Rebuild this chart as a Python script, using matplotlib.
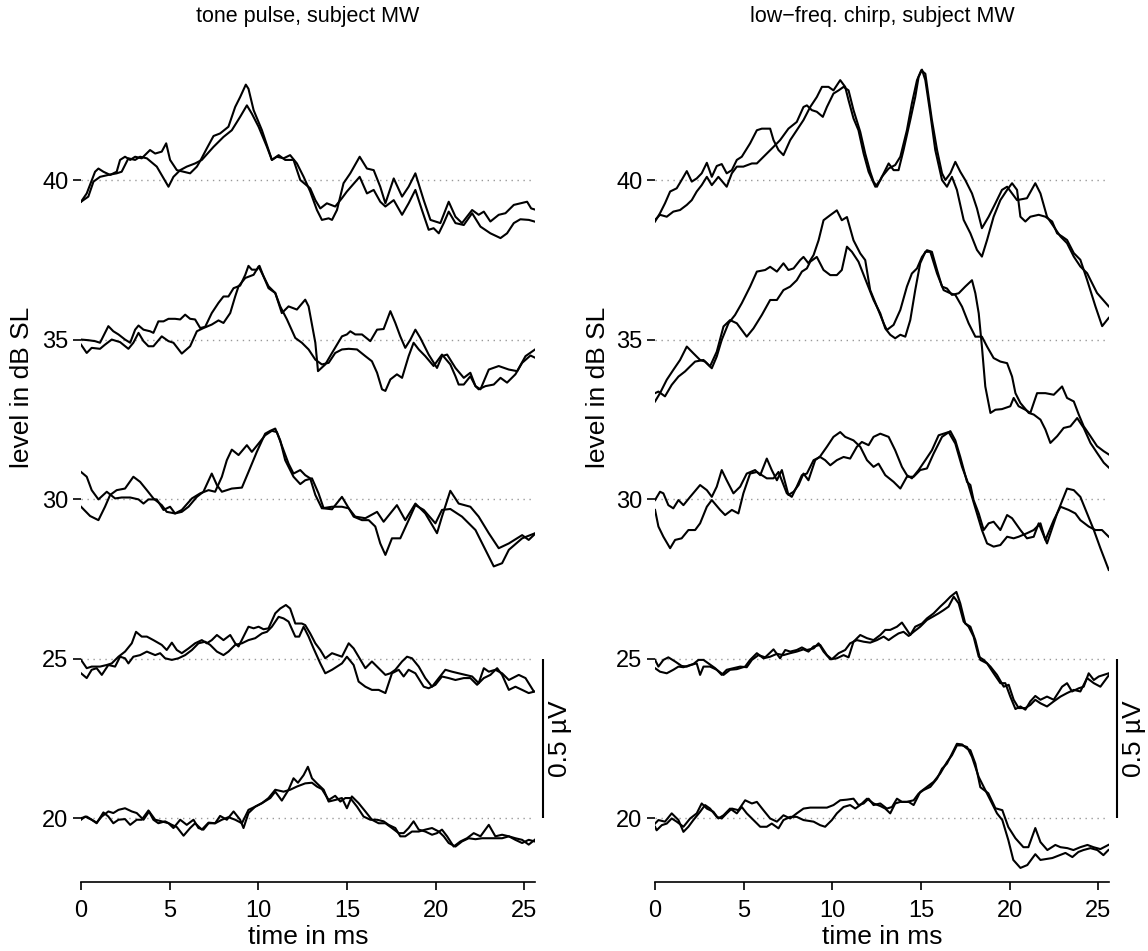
import matplotlib.pyplot as plt
import numpy as np

plt.rcParams['font.family'] = ['Liberation Sans', 'DejaVu Sans']

# averaged responses: (time in ms, amplitude in µV) per recording
tone_40a = [(0, -0.068), (0.32, -0.042), (0.79, 0.026), (0.98, 0.036), (1.26, 0.026), (1.64, 0.016), (2.01, 0.026),
            (2.20, 0.063), (2.48, 0.073), (2.77, 0.063), (3.05, 0.073), (3.42, 0.068), (3.89, 0.094), (4.18, 0.083),
            (4.55, 0.089), (4.80, 0.115), (5.02, 0.063), (5.40, 0.031), (5.78, 0.026), (6.15, 0.021), (6.53, 0.042),
            (6.75, 0.063), (7.09, 0.099), (7.47, 0.138), (7.84, 0.146), (8.31, 0.167), (8.69, 0.229), (8.97, 0.260),
            (9.29, 0.299), (9.44, 0.286), (9.73, 0.219), (10.20, 0.156), (10.76, 0.063), (11.04, 0.073), (11.42, 0.068),
            (11.79, 0.078), (12.17, 0.052), (12.55, 0.010), (12.92, -0.036), (13.30, -0.094), (13.58, -0.125),
            (13.96, -0.120), (14.15, -0.125), (14.43, -0.094), (14.80, -0.010), (15.18, 0.021), (15.71, 0.073),
            (16.12, 0.036), (16.50, 0.031), (16.87, -0.021), (17.16, -0.073), (17.63, 0.005), (18.10, -0.052),
            (18.47, -0.021), (18.85, 0.021), (19.32, -0.063), (19.70, -0.125), (20.26, -0.135), (20.73, -0.068),
            (21.11, -0.115), (21.48, -0.135), (22.05, -0.094), (22.42, -0.109), (22.71, -0.099), (23.08, -0.130),
            (23.55, -0.109), (23.93, -0.104), (24.40, -0.078), (25.15, -0.068), (25.38, -0.089), (25.56, -0.092)]
tone_40b = [(0, -0.068), (0.41, -0.052), (0.70, -0.005), (1.07, 0.010), (1.54, 0.016), (2.01, 0.021), (2.29, 0.026),
            (2.67, 0.068), (3.05, 0.063), (3.33, 0.073), (3.71, 0.068), (4.27, 0.042), (4.93, -0.021), (5.21, 0.010),
            (5.59, 0.031), (5.96, 0.042), (6.43, 0.052), (6.81, 0.063), (7.47, 0.104), (8.03, 0.135), (8.50, 0.156),
            (8.97, 0.198), (9.35, 0.234), (9.63, 0.208), (10.01, 0.167), (10.48, 0.104), (10.76, 0.063), (11.14, 0.078),
            (11.51, 0.063), (11.98, 0.063), (12.36, 0.000), (12.92, -0.026), (13.21, -0.063), (13.49, -0.089),
            (13.86, -0.073), (14.33, -0.083), (14.71, -0.057), (14.99, -0.036), (15.71, 0.010), (16.12, -0.042),
            (16.50, -0.031), (16.87, -0.068), (17.16, -0.083), (17.63, -0.063), (18.10, -0.109), (18.47, -0.073),
            (18.85, -0.031), (19.22, -0.094), (19.60, -0.156), (19.88, -0.151), (20.17, -0.167), (20.45, -0.135),
            (20.73, -0.099), (21.11, -0.135), (21.58, -0.141), (22.05, -0.104), (22.52, -0.146), (23.08, -0.167),
            (23.65, -0.182), (24.02, -0.167), (24.40, -0.135), (24.77, -0.123), (25.25, -0.125), (25.56, -0.130)]
tone_35a = [(0, 0), (0.41, -0.002), (0.79, -0.005), (1.07, -0.010), (1.35, 0.021), (1.54, 0.042), (1.82, 0.026),
            (2.11, 0.016), (2.48, 0), (2.77, -0.010), (3.05, 0.031), (3.24, 0.044), (3.52, 0.031), (3.89, 0.026),
            (4.08, 0.021), (4.36, 0.057), (4.65, 0.057), (4.93, 0.065), (5.30, 0.065), (5.59, 0.063), (5.87, 0.078),
            (6.15, 0.065), (6.43, 0.063), (6.72, 0.036), (7.00, 0.040), (7.37, 0.083), (7.75, 0.115), (8.03, 0.135),
            (8.31, 0.135), (8.60, 0.161), (8.97, 0.169), (9.26, 0.203), (9.44, 0.231), (9.63, 0.219), (9.91, 0.219),
            (10.06, 0.231), (10.29, 0.198), (10.57, 0.167), (10.95, 0.146), (11.32, 0.083), (11.70, 0.104),
            (12.17, 0.094), (12.64, 0.125), (12.83, 0.104), (13.21, -0.010), (13.36, -0.099), (13.77, -0.078),
            (14.15, -0.042), (14.71, 0.010), (14.99, 0.016), (15.18, 0.026), (15.46, 0.016), (15.84, 0.016),
            (16.31, -0.005), (16.69, 0.031), (17.06, 0.033), (17.44, 0.089), (17.72, 0.052), (18.00, 0.010),
            (18.28, -0.026), (18.57, 0), (18.85, 0.031), (19.13, 0.005), (19.60, -0.047), (20.07, -0.089),
            (20.35, -0.052), (20.64, -0.047), (21.11, -0.089), (21.58, -0.120), (21.95, -0.104), (22.24, -0.146),
            (22.52, -0.156), (22.99, -0.094), (23.55, -0.083), (24.12, -0.094), (24.59, -0.099), (25.06, -0.052),
            (25.60, -0.031)]
tone_35b = [(0, -0.016), (0.32, -0.042), (0.60, -0.026), (1.07, -0.029), (1.35, -0.016), (1.73, 0), (2.20, -0.008),
            (2.67, -0.029), (2.95, -0.010), (3.24, 0.021), (3.52, -0.005), (3.80, -0.021), (4.08, -0.021),
            (4.55, 0.010), (4.93, -0.005), (5.21, -0.010), (5.68, -0.044), (6.15, -0.021), (6.53, 0.026),
            (6.90, 0.036), (7.37, 0.047), (7.75, 0.060), (8.03, 0.052), (8.41, 0.083), (8.69, 0.135), (8.88, 0.167),
            (9.26, 0.193), (9.73, 0.203), (10.01, 0.229), (10.29, 0.198), (10.57, 0.161), (10.95, 0.146),
            (11.23, 0.104), (11.61, 0.063), (12.08, 0.005), (12.45, -0.010), (12.83, -0.031), (13.21, -0.063),
            (13.58, -0.078), (13.96, -0.073), (14.33, -0.042), (14.71, -0.031), (15.09, -0.029), (15.56, -0.031),
            (16.03, -0.052), (16.40, -0.068), (16.69, -0.104), (16.97, -0.156), (17.16, -0.161), (17.44, -0.125),
            (17.81, -0.109), (18.10, -0.120), (18.47, -0.052), (18.75, -0.010), (19.04, -0.031), (19.41, -0.052),
            (19.88, -0.083), (20.35, -0.047), (20.82, -0.078), (21.11, -0.115), (21.29, -0.141), (21.58, -0.141),
            (21.95, -0.115), (22.24, -0.146), (22.42, -0.156), (22.80, -0.146), (23.27, -0.141), (23.65, -0.120),
            (24.02, -0.135), (24.49, -0.109), (24.87, -0.073), (25.34, -0.050), (25.60, -0.057)]
tone_30a = [(0, 0.085), (0.32, 0.070), (0.60, 0.028), (0.98, -0.001), (1.45, 0.023), (1.92, 0.002), (2.29, 0.005),
            (2.77, 0.005), (3.24, -0.001), (3.52, -0.014), (3.80, -0.001), (4.27, -0.001), (4.65, -0.034),
            (5.02, -0.024), (5.30, -0.045), (5.68, -0.040), (6.06, -0.024), (6.53, 0.007), (6.90, 0.023),
            (7.37, 0.080), (7.66, 0.044), (7.94, 0.023), (8.50, 0.033), (9.07, 0.036), (9.44, 0.085), (9.91, 0.148),
            (10.38, 0.205), (10.67, 0.214), (10.95, 0.221), (11.23, 0.184), (11.51, 0.122), (11.98, 0.070),
            (12.36, 0.047), (12.64, 0.059), (13.02, 0.065), (13.39, 0.018), (13.68, -0.029), (14.15, -0.032),
            (14.71, 0.007), (14.99, -0.019), (15.37, -0.055), (15.84, -0.066), (16.22, -0.066), (16.59, -0.086),
            (16.87, -0.139), (17.16, -0.175), (17.53, -0.123), (18.00, -0.123), (18.47, -0.066), (18.85, -0.019),
            (19.32, -0.034), (19.98, -0.076), (20.35, -0.034), (20.82, -0.031), (21.48, -0.055), (22.24, -0.097),
            (22.80, -0.159), (23.27, -0.211), (23.74, -0.201), (24.12, -0.159), (24.87, -0.123), (25.60, -0.107)]
tone_30b = [(0, -0.024), (0.51, -0.053), (0.98, -0.066), (1.35, -0.024), (1.64, 0.013), (2.01, 0.028), (2.48, 0.033),
            (2.95, 0.070), (3.33, 0.054), (3.71, 0.028), (4.08, 0.002), (4.55, -0.019), (4.83, -0.040),
            (5.30, -0.045), (5.68, -0.034), (6.25, 0.002), (6.72, 0.018), (7.19, 0.028), (7.56, 0.023), (7.94, 0.070),
            (8.22, 0.122), (8.50, 0.155), (8.88, 0.138), (9.35, 0.169), (9.63, 0.148), (10.01, 0.174), (10.38, 0.200),
            (10.76, 0.214), (11.04, 0.210), (11.42, 0.153), (11.70, 0.111), (11.98, 0.080), (12.36, 0.091),
            (12.64, 0.075), (12.92, 0.065), (13.21, 0.013), (13.58, -0.029), (14.15, -0.024), (14.71, -0.024),
            (15.09, -0.029), (15.46, -0.055), (16.03, -0.060), (16.69, -0.040), (17.06, -0.071), (17.81, -0.019),
            (18.28, -0.066), (18.85, -0.014), (19.41, -0.045), (20.07, -0.107), (20.35, -0.055), (20.82, 0.026),
            (21.29, -0.014), (21.95, -0.024), (22.42, -0.055), (22.99, -0.107), (23.55, -0.154), (24.12, -0.139),
            (24.87, -0.113), (25.24, -0.128), (25.60, -0.109)]
tone_25a = [(0, -0.004), (0.32, -0.030), (0.60, -0.025), (1.07, -0.025), (1.45, -0.020), (1.73, -0.015), (2.11, 0.006),
            (2.48, 0.022), (2.86, 0.048), (3.10, 0.084), (3.42, 0.069), (3.71, 0.069), (4.08, 0.058), (4.55, 0.043),
            (4.83, 0.027), (5.12, 0.050), (5.40, 0.027), (5.68, 0.017), (6.06, 0.032), (6.43, 0.048), (6.81, 0.058),
            (7.09, 0.048), (7.37, 0.058), (7.66, 0.074), (8.03, 0.058), (8.41, 0.074), (8.69, 0.048), (8.88, 0.038),
            (9.16, 0.069), (9.44, 0.100), (9.73, 0.095), (10.01, 0.100), (10.29, 0.092), (10.57, 0.095),
            (10.95, 0.142), (11.23, 0.157), (11.55, 0.168), (11.79, 0.157), (12.08, 0.110), (12.45, 0.110),
            (12.64, 0.105), (12.92, 0.079), (13.21, 0.048), (13.49, 0.027), (13.77, 0.001), (14.15, 0.017),
            (14.71, 0.006), (15.09, 0.048), (15.37, 0.032), (15.65, 0.006), (16.03, -0.030), (16.40, -0.009),
            (16.78, -0.030), (17.16, -0.051), (17.44, -0.046), (17.72, -0.035), (18.10, -0.009), (18.38, 0.006),
            (18.66, 0.001), (19.04, -0.025), (19.41, -0.061), (19.79, -0.088), (20.17, -0.061), (20.54, -0.035),
            (20.92, -0.041), (21.29, -0.046), (21.67, -0.051), (22.05, -0.056), (22.42, -0.077), (22.71, -0.030),
            (22.99, -0.041), (23.36, -0.035), (23.74, -0.046), (24.12, -0.067), (24.68, -0.051), (25.06, -0.061),
            (25.53, -0.103)]
tone_25b = [(0, -0.046), (0.32, -0.061), (0.60, -0.035), (0.88, -0.030), (1.17, -0.051), (1.54, -0.020),
            (1.92, -0.025), (2.20, 0.006), (2.48, 0.001), (2.67, -0.015), (2.95, 0.006), (3.33, 0.011), (3.71, 0.022),
            (4.18, 0.011), (4.46, 0.017), (4.74, 0.001), (5.12, -0.004), (5.49, 0.001), (5.87, 0.011), (6.25, 0.027),
            (6.62, 0.048), (7.00, 0.053), (7.28, 0.043), (7.66, 0.022), (8.03, 0.011), (8.31, 0.022), (8.69, 0.043),
            (9.07, 0.048), (9.44, 0.058), (9.82, 0.064), (10.20, 0.079), (10.48, 0.084), (10.76, 0.100),
            (11.14, 0.131), (11.42, 0.126), (11.70, 0.116), (12.08, 0.069), (12.30, 0.069), (12.55, 0.100),
            (12.83, 0.069), (13.11, 0.032), (13.49, -0.015), (13.77, -0.046), (14.15, -0.035), (14.43, -0.025),
            (14.71, -0.015), (14.99, 0.006), (15.37, -0.020), (15.65, -0.072), (16.03, -0.088), (16.40, -0.098),
            (16.78, -0.098), (17.16, -0.108), (17.53, -0.046), (17.91, -0.035), (18.19, -0.056), (18.47, -0.035),
            (18.85, -0.046), (19.32, -0.088), (19.60, -0.093), (19.98, -0.082), (20.35, -0.056), (20.73, -0.061),
            (21.11, -0.067), (21.58, -0.061), (21.95, -0.061), (22.33, -0.082), (22.71, -0.061), (23.08, -0.051),
            (23.46, -0.030), (23.74, -0.051), (24.12, -0.098), (24.49, -0.088), (24.87, -0.098), (25.24, -0.108),
            (25.58, -0.103)]
tone_20a = [(0, 0), (0.32, 0.005), (0.60, -0.005), (0.88, -0.016), (1.26, 0.018), (1.54, 0.005), (1.82, -0.016),
            (2.11, -0.005), (2.48, -0.003), (2.77, -0.021), (3.14, -0.005), (3.42, -0.005), (3.80, 0.024),
            (4.08, -0.005), (4.36, -0.016), (4.74, -0.010), (5.12, -0.021), (5.40, -0.028), (5.78, -0.055),
            (6.15, -0.031), (6.43, -0.016), (6.81, -0.036), (7.19, -0.014), (7.56, -0.016), (7.84, 0.007),
            (8.22, -0.005), (8.60, 0.021), (8.97, -0.005), (9.16, -0.031), (9.44, 0.016), (9.82, 0.036), (10.20, 0.047),
            (10.67, 0.063), (10.95, 0.083), (11.32, 0.055), (11.70, 0.089), (11.98, 0.125), (12.23, 0.111),
            (12.55, 0.135), (12.79, 0.161), (13.02, 0.125), (13.30, 0.109), (13.68, 0.089), (13.96, 0.052),
            (14.33, 0.057), (14.71, 0.063), (14.99, 0.031), (15.27, 0.068), (15.65, 0.047), (16.03, 0.021),
            (16.40, -0.005), (16.78, -0.016), (17.16, -0.016), (17.53, -0.031), (17.91, -0.047), (18.19, -0.047),
            (18.47, -0.031), (18.75, -0.010), (19.04, -0.036), (19.41, -0.042), (19.79, -0.052), (20.07, -0.047),
            (20.35, -0.036), (20.64, -0.057), (21.01, -0.089), (21.39, -0.073), (21.76, -0.063), (22.14, -0.047),
            (22.52, -0.057), (22.99, -0.021), (23.36, -0.057), (23.74, -0.052), (24.12, -0.057), (24.49, -0.063),
            (24.87, -0.068), (25.24, -0.083), (25.58, -0.068)]
tone_20b = [(0, -0.005), (0.23, 0.005), (0.60, -0.005), (0.88, -0.014), (1.17, 0.005), (1.54, 0.021), (1.82, 0.016),
            (2.11, 0.026), (2.48, 0.031), (2.86, 0.021), (3.14, 0.016), (3.52, -0.005), (3.84, 0.021), (4.18, -0.005),
            (4.55, -0.010), (4.93, -0.016), (5.21, -0.031), (5.59, -0.005), (5.96, -0.021), (6.34, -0.005),
            (6.62, -0.031), (6.90, -0.036), (7.19, -0.016), (7.56, -0.016), (7.94, -0.005), (8.31, 0.003),
            (8.69, -0.005), (9.07, -0.016), (9.44, 0.026), (9.82, 0.036), (10.20, 0.047), (10.57, 0.063),
            (10.95, 0.089), (11.42, 0.083), (11.79, 0.089), (12.17, 0.099), (12.64, 0.109), (13.02, 0.111),
            (13.30, 0.099), (13.58, 0.091), (13.96, 0.057), (14.33, 0.070), (14.62, 0.052), (14.90, 0.063),
            (15.18, 0.063), (15.56, 0.036), (15.93, 0.005), (16.31, -0.005), (16.69, -0.005), (17.06, -0.010),
            (17.34, -0.021), (17.72, -0.031), (18.00, -0.057), (18.28, -0.057), (18.66, -0.042), (19.04, -0.042),
            (19.41, -0.036), (19.79, -0.031), (20.17, -0.042), (20.45, -0.057), (20.73, -0.078), (21.11, -0.089),
            (21.48, -0.073), (21.86, -0.063), (22.24, -0.066), (22.61, -0.063), (22.99, -0.063), (23.36, -0.063),
            (23.74, -0.063), (24.12, -0.057), (24.49, -0.068), (24.87, -0.078), (25.24, -0.068), (25.58, -0.073)]

chirp_40a = [(0, -0.130), (0.28, -0.104), (0.56, -0.073), (0.85, -0.036), (1.22, -0.026), (1.50, 0), (1.79, 0.028),
             (2.07, -0.005), (2.35, 0.005), (2.63, 0.021), (2.92, 0.054), (3.20, 0.010), (3.48, 0.044), (3.76, 0.050),
             (4.04, 0.021), (4.33, 0.031), (4.61, 0.063), (4.89, 0.073), (5.36, 0.115), (5.74, 0.156), (6.02, 0.161),
             (6.49, 0.161), (6.68, 0.125), (6.96, 0.094), (7.24, 0.078), (7.62, 0.125), (7.99, 0.156), (8.37, 0.188),
             (8.75, 0.229), (9.12, 0.260), (9.41, 0.292), (9.78, 0.292), (10.06, 0.281), (10.44, 0.313),
             (10.72, 0.292), (10.91, 0.250), (11.19, 0.193), (11.47, 0.156), (11.76, 0.083), (12.04, 0.026),
             (12.42, -0.021), (12.70, 0), (13.17, 0.052), (13.45, 0.031), (13.73, 0.031), (14.01, 0.094),
             (14.39, 0.188), (14.67, 0.260), (14.86, 0.323), (15.05, 0.346), (15.24, 0.313), (15.52, 0.208),
             (15.80, 0.094), (16.18, 0), (16.46, -0.021), (16.74, 0.010), (17.02, -0.031), (17.40, -0.125),
             (17.78, -0.167), (18.15, -0.219), (18.43, -0.240), (18.72, -0.188), (19.09, -0.115), (19.47, -0.063),
             (19.85, -0.031), (20.13, -0.010), (20.41, -0.031), (20.60, -0.115), (20.88, -0.130), (21.16, -0.115),
             (21.63, -0.109), (22.01, -0.115), (22.39, -0.130), (22.67, -0.167), (22.95, -0.177), (23.23, -0.188),
             (23.61, -0.229), (23.98, -0.250), (24.36, -0.313), (24.83, -0.396), (25.21, -0.458), (25.58, -0.432)]
chirp_40b = [(0, -0.125), (0.28, -0.109), (0.66, -0.115), (1.03, -0.099), (1.41, -0.094), (1.79, -0.078),
             (2.07, -0.063), (2.35, -0.036), (2.63, -0.016), (2.92, 0.010), (3.20, -0.016), (3.57, 0.010),
             (4.04, -0.021), (4.33, 0.021), (4.61, 0.042), (4.98, 0.042), (5.46, 0.052), (5.74, 0.052), (6.21, 0.078),
             (6.68, 0.104), (7.05, 0.125), (7.52, 0.161), (7.99, 0.182), (8.37, 0.229), (8.56, 0.234), (8.84, 0.219),
             (9.12, 0.214), (9.46, 0.198), (9.69, 0.229), (10.06, 0.271), (10.35, 0.281), (10.63, 0.292),
             (10.91, 0.281), (11.19, 0.219), (11.57, 0.151), (11.85, 0.083), (12.13, 0.026), (12.32, -0.005),
             (12.51, -0.021), (12.79, 0.010), (13.17, 0.036), (13.54, 0.047), (13.83, 0.073), (14.20, 0.156),
             (14.48, 0.240), (14.77, 0.313), (15.01, 0.344), (15.24, 0.333), (15.61, 0.188), (15.90, 0.094),
             (16.18, 0.021), (16.37, 0), (16.65, 0.021), (16.93, 0.057), (17.21, 0.026), (17.49, 0), (17.87, -0.042),
             (18.15, -0.089), (18.43, -0.151), (18.81, -0.115), (19.19, -0.073), (19.56, -0.031), (19.85, -0.021),
             (20.13, -0.042), (20.41, -0.063), (20.97, -0.057), (21.44, -0.010), (21.73, -0.042), (22.10, -0.115),
             (22.48, -0.146), (22.86, -0.177), (23.23, -0.198), (23.61, -0.240), (23.98, -0.271), (24.36, -0.292),
             (24.92, -0.354), (25.58, -0.396)]
chirp_35a = [(0, -0.194), (0.28, -0.168), (0.66, -0.126), (1.03, -0.095), (1.41, -0.064), (1.79, -0.022),
             (2.16, -0.043), (2.54, -0.064), (2.82, -0.069), (3.20, -0.090), (3.48, -0.053), (3.76, -0.001),
             (4.14, 0.051), (4.51, 0.077), (4.89, 0.114), (5.36, 0.166), (5.74, 0.213), (6.21, 0.218), (6.49, 0.228),
             (6.87, 0.213), (7.24, 0.239), (7.52, 0.218), (7.81, 0.223), (8.18, 0.249), (8.37, 0.259), (8.65, 0.239),
             (8.94, 0.265), (9.22, 0.311), (9.50, 0.374), (9.88, 0.390), (10.25, 0.405), (10.53, 0.374),
             (10.82, 0.384), (11.19, 0.311), (11.57, 0.270), (11.85, 0.249), (12.13, 0.155), (12.51, 0.103),
             (12.89, 0.051), (13.07, 0.030), (13.45, 0.046), (13.83, 0.093), (14.20, 0.166), (14.48, 0.207),
             (14.77, 0.223), (15.05, 0.259), (15.33, 0.280), (15.61, 0.275), (15.90, 0.218), (16.18, 0.166),
             (16.46, 0.160), (16.74, 0.140), (17.12, 0.145), (17.49, 0.166), (17.87, 0.186), (18.06, 0.145),
             (18.25, 0.082), (18.43, -0.022), (18.62, -0.147), (18.91, -0.230), (19.19, -0.220), (19.56, -0.218),
             (20.03, -0.209), (20.22, -0.183), (20.50, -0.209), (20.88, -0.220), (21.16, -0.230), (21.54, -0.168),
             (22.01, -0.168), (22.48, -0.173), (22.95, -0.147), (23.23, -0.183), (23.61, -0.194), (23.89, -0.235),
             (24.17, -0.272), (24.55, -0.303), (24.92, -0.334), (25.30, -0.350), (25.58, -0.360)]
chirp_35b = [(0, -0.168), (0.19, -0.163), (0.56, -0.178), (0.94, -0.142), (1.32, -0.116), (1.69, -0.100),
             (1.98, -0.084), (2.26, -0.069), (2.73, -0.064), (3.10, -0.084), (3.48, -0.038), (3.86, 0.041),
             (4.23, 0.061), (4.61, 0.051), (5.17, 0.009), (5.55, 0.035), (6.02, 0.077), (6.49, 0.124), (6.87, 0.124),
             (7.24, 0.155), (7.62, 0.166), (7.99, 0.186), (8.28, 0.213), (8.56, 0.223), (8.75, 0.244), (9.12, 0.259),
             (9.50, 0.218), (9.88, 0.202), (10.25, 0.202), (10.53, 0.218), (10.82, 0.291), (11.10, 0.275),
             (11.47, 0.244), (11.95, 0.176), (12.32, 0.124), (12.70, 0.082), (12.98, 0.035), (13.26, 0.015),
             (13.54, 0.004), (13.83, 0.015), (14.11, 0.009), (14.39, 0.061), (14.67, 0.155), (14.95, 0.239),
             (15.24, 0.275), (15.52, 0.275), (15.90, 0.207), (16.27, 0.155), (16.65, 0.145), (16.93, 0.140),
             (17.31, 0.103), (17.68, 0.051), (18.06, 0.009), (18.43, 0.009), (18.72, -0.022), (19.09, -0.058),
             (19.47, -0.069), (19.85, -0.074), (20.13, -0.116), (20.32, -0.168), (20.60, -0.199), (21.07, -0.230),
             (21.35, -0.235), (21.73, -0.251), (22.01, -0.282), (22.29, -0.324), (22.67, -0.303), (23.04, -0.277),
             (23.42, -0.272), (23.80, -0.246), (24.17, -0.277), (24.55, -0.324), (24.92, -0.355), (25.30, -0.386),
             (25.58, -0.401)]
chirp_30a = [(0, -0.003), (0.28, 0.023), (0.47, 0.018), (0.75, -0.019), (1.03, -0.029), (1.32, -0.003),
             (1.60, -0.019), (1.98, 0.007), (2.54, 0.044), (2.92, 0.028), (3.20, 0.007), (3.48, 0.039), (3.76, 0.091),
             (4.04, 0.059), (4.42, 0.018), (4.80, 0.039), (5.17, 0.080), (5.64, 0.091), (5.93, 0.075), (6.30, 0.127),
             (6.58, 0.091), (6.87, 0.059), (7.15, 0.091), (7.52, 0.013), (7.81, 0.023), (8.09, 0.044), (8.37, 0.080),
             (8.65, 0.059), (9.03, 0.122), (9.31, 0.134), (9.69, 0.164), (10.06, 0.195), (10.44, 0.210),
             (10.72, 0.195), (11.19, 0.184), (11.57, 0.164), (11.95, 0.122), (12.32, 0.101), (12.60, 0.111),
             (12.98, 0.075), (13.45, 0.054), (13.83, 0.033), (14.20, 0.070), (14.58, 0.070), (14.95, 0.091),
             (15.33, 0.096), (15.71, 0.143), (16.18, 0.195), (16.65, 0.213), (16.93, 0.184), (17.21, 0.132),
             (17.59, 0.054), (17.78, 0.044), (17.96, -0.003), (18.25, -0.045), (18.53, -0.097), (18.81, -0.076),
             (19.09, -0.071), (19.47, -0.097), (19.85, -0.050), (20.13, -0.060), (20.60, -0.097), (20.97, -0.123),
             (21.35, -0.118), (21.63, -0.076), (22.10, -0.139), (22.67, -0.045), (23.23, 0.033), (23.61, 0.028),
             (23.98, 0.007), (24.36, -0.045), (24.74, -0.097), (25.11, -0.154), (25.58, -0.222)]
chirp_30b = [(0, -0.034), (0.19, -0.086), (0.47, -0.118), (0.85, -0.154), (1.13, -0.128), (1.50, -0.123),
             (1.88, -0.097), (2.26, -0.097), (2.54, -0.076), (2.92, -0.024), (3.20, -0.003), (3.67, -0.034),
             (3.95, -0.050), (4.33, -0.034), (4.70, -0.045), (4.98, 0.018), (5.36, 0.080), (5.74, 0.085),
             (6.30, 0.065), (6.68, 0.065), (6.96, 0.085), (7.43, 0.018), (7.71, 0.007), (7.99, 0.039), (8.28, 0.075),
             (8.56, 0.080), (8.94, 0.122), (9.31, 0.132), (9.59, 0.122), (9.88, 0.106), (10.25, 0.122), (10.63, 0.132),
             (11.00, 0.127), (11.38, 0.164), (11.66, 0.179), (12.04, 0.169), (12.32, 0.195), (12.70, 0.205),
             (13.17, 0.195), (13.54, 0.153), (13.92, 0.101), (14.20, 0.075), (14.48, 0.065), (14.86, 0.091),
             (15.24, 0.122), (15.61, 0.153), (15.99, 0.200), (16.55, 0.210), (16.93, 0.174), (17.31, 0.101),
             (17.59, 0.059), (17.87, 0.007), (18.15, -0.045), (18.43, -0.097), (18.72, -0.139), (19.09, -0.149),
             (19.47, -0.144), (19.85, -0.118), (20.22, -0.123), (20.50, -0.118), (20.97, -0.107), (21.35, -0.097),
             (21.73, -0.076), (22.01, -0.128), (22.48, -0.066), (22.86, -0.024), (23.32, -0.034), (23.70, -0.045),
             (23.98, -0.066), (24.45, -0.086), (24.83, -0.097), (25.20, -0.097), (25.58, -0.118)]
chirp_25a = [(0, -0.004), (0.19, -0.025), (0.47, -0.004), (0.75, 0.004), (1.13, -0.009), (1.50, -0.023),
             (1.79, -0.025), (2.16, -0.017), (2.45, -0.004), (2.73, -0.004), (3.01, -0.015), (3.39, -0.030),
             (3.76, -0.051), (4.04, -0.035), (4.42, -0.030), (4.80, -0.025), (5.17, -0.027), (5.46, -0.004),
             (5.83, 0.011), (6.21, 0.004), (6.68, 0.029), (7.05, 0.001), (7.34, 0.027), (7.62, 0.022), (7.99, 0.027),
             (8.28, 0.035), (8.56, 0.027), (8.94, 0.032), (9.22, 0.048), (9.50, 0.022), (9.88, -0.002), (10.25, 0.001),
             (10.63, 0.011), (10.91, 0.004), (11.19, 0.053), (11.57, 0.074), (11.95, 0.064), (12.32, 0.058),
             (12.70, 0.074), (12.98, 0.090), (13.26, 0.090), (13.64, 0.100), (13.92, 0.113), (14.20, 0.090),
             (14.39, 0.074), (14.67, 0.100), (15.05, 0.110), (15.33, 0.126), (15.71, 0.142), (16.08, 0.163),
             (16.37, 0.178), (16.65, 0.194), (16.99, 0.209), (17.21, 0.173), (17.49, 0.110), (17.78, 0.100),
             (18.06, 0.058), (18.34, -0.004), (18.72, -0.015), (19.09, -0.046), (19.47, -0.077), (19.75, -0.077),
             (20.03, -0.119), (20.32, -0.158), (20.60, -0.150), (20.88, -0.160), (21.16, -0.134), (21.44, -0.117),
             (21.73, -0.129), (22.10, -0.119), (22.48, -0.129), (22.95, -0.088), (23.23, -0.077), (23.51, -0.103),
             (23.89, -0.093), (24.17, -0.088), (24.45, -0.046), (24.74, -0.067), (25.02, -0.056), (25.30, -0.051),
             (25.58, -0.046)]
chirp_25b = [(0, -0.030), (0.28, -0.041), (0.66, -0.046), (1.03, -0.035), (1.32, -0.025), (1.60, -0.027),
             (1.98, -0.020), (2.35, -0.015), (2.54, -0.051), (2.73, -0.025), (3.10, -0.025), (3.48, -0.035),
             (3.86, -0.051), (4.23, -0.035), (4.61, -0.033), (5.08, -0.025), (5.36, -0.004), (5.74, 0.017),
             (6.11, 0.001), (6.49, 0.006), (6.87, 0.015), (7.24, 0.011), (7.62, 0.017), (7.99, 0.022), (8.37, 0.029),
             (8.65, 0.022), (8.94, 0.038), (9.31, 0.043), (9.69, 0.011), (9.97, -0.002), (10.35, 0.017), (10.72, 0.027),
             (11.00, 0.048), (11.38, 0.058), (11.76, 0.053), (12.13, 0.050), (12.51, 0.058), (12.89, 0.069),
             (13.17, 0.058), (13.45, 0.069), (13.73, 0.079), (14.01, 0.084), (14.30, 0.071), (14.58, 0.084),
             (14.95, 0.100), (15.33, 0.121), (15.71, 0.133), (15.99, 0.142), (16.27, 0.152), (16.55, 0.163),
             (16.84, 0.194), (17.12, 0.173), (17.40, 0.116), (17.68, 0.100), (17.96, 0.069), (18.25, 0.006),
             (18.53, -0.004), (18.91, -0.025), (19.28, -0.051), (19.66, -0.088), (19.94, -0.082), (20.22, -0.129),
             (20.50, -0.155), (20.88, -0.155), (21.16, -0.145), (21.44, -0.129), (21.73, -0.140), (22.10, -0.150),
             (22.48, -0.134), (22.86, -0.119), (23.23, -0.108), (23.61, -0.098), (23.98, -0.103), (24.36, -0.061),
             (24.74, -0.077), (25.11, -0.088), (25.60, -0.051)]
chirp_20a = [(0, -0.017), (0.19, -0.006), (0.56, -0.011), (0.94, 0.015), (1.32, -0.006), (1.60, -0.043),
             (1.88, -0.027), (2.16, -0.006), (2.54, 0.020), (2.82, 0.041), (3.10, 0.030), (3.48, 0.004),
             (3.76, -0.001), (4.04, 0.015), (4.33, 0.030), (4.70, 0.025), (5.08, 0.056), (5.46, 0.046), (5.74, 0.051),
             (6.11, 0.025), (6.49, -0.001), (6.87, -0.011), (7.24, 0.009), (7.62, -0.001), (7.99, 0.015),
             (8.37, 0.030), (8.75, 0.033), (9.12, 0.033), (9.69, 0.033), (10.06, 0.041), (10.44, 0.056),
             (10.82, 0.058), (11.19, 0.061), (11.47, 0.041), (11.76, 0.046), (12.04, 0.061), (12.32, 0.041),
             (12.70, 0.046), (13.07, 0.030), (13.36, 0.035), (13.64, 0.061), (13.92, 0.051), (14.30, 0.051),
             (14.58, 0.041), (14.95, 0.082), (15.33, 0.098), (15.71, 0.114), (16.08, 0.140), (16.46, 0.176),
             (16.74, 0.197), (17.02, 0.228), (17.31, 0.228), (17.59, 0.223), (17.87, 0.192), (18.25, 0.129),
             (18.62, 0.088), (18.91, 0.056), (19.28, 0.015), (19.58, -0.006), (19.92, -0.069), (20.20, -0.131),
             (20.60, -0.156), (20.99, -0.147), (21.44, -0.113), (21.73, -0.131), (22.40, -0.125), (23.14, -0.109),
             (23.53, -0.122), (23.87, -0.106), (24.15, -0.100), (24.55, -0.094), (24.94, -0.100), (25.28, -0.116),
             (25.56, -0.100)]
chirp_20b = [(0, -0.027), (0.09, -0.038), (0.38, -0.022), (0.66, -0.017), (0.94, -0.001), (1.22, -0.011),
             (1.60, -0.027), (1.98, -0.001), (2.35, 0.015), (2.63, 0.046), (2.92, 0.030), (3.29, 0.020),
             (3.57, -0.001), (3.86, 0.009), (4.23, 0.030), (4.61, 0.015), (4.89, 0.035), (5.17, 0.015),
             (5.55, -0.006), (5.93, -0.027), (6.30, -0.027), (6.58, -0.017), (6.96, -0.032), (7.24, -0.006),
             (7.62, 0.004), (7.99, 0.004), (8.37, -0.006), (8.94, -0.011), (9.31, -0.022), (9.59, -0.027),
             (9.97, -0.006), (10.25, 0.015), (10.63, 0.035), (11.00, 0.041), (11.29, 0.030), (11.57, 0.041),
             (11.95, 0.061), (12.32, 0.046), (12.70, 0.038), (12.98, 0.030), (13.26, 0.015), (13.54, 0.046),
             (13.83, 0.051), (14.20, 0.051), (14.58, 0.056), (14.86, 0.077), (15.14, 0.088), (15.52, 0.098),
             (15.90, 0.124), (16.18, 0.155), (16.46, 0.171), (16.74, 0.202), (17.02, 0.233), (17.31, 0.231),
             (17.59, 0.218), (17.78, 0.213), (18.06, 0.171), (18.34, 0.097), (18.79, 0.078), (19.19, 0.031),
             (19.58, 0.025), (19.92, -0.028), (20.32, -0.063), (20.77, -0.091), (21.05, -0.091), (21.44, -0.031),
             (21.73, -0.075), (22.12, -0.100), (22.57, -0.084), (22.86, -0.091), (23.25, -0.094), (23.59, -0.100),
             (23.98, -0.091), (24.38, -0.084), (24.72, -0.091), (25.11, -0.097), (25.56, -0.084)]

levels = [40, 35, 30, 25, 20]
tone_traces = [(tone_40a, tone_40b), (tone_35a, tone_35b), (tone_30a, tone_30b),
               (tone_25a, tone_25b), (tone_20a, tone_20b)]
chirp_traces = [(chirp_40a, chirp_40b), (chirp_35a, chirp_35b), (chirp_30a, chirp_30b),
                (chirp_25a, chirp_25b), (chirp_20a, chirp_20b)]
titles = ["tone pulse, subject MW", "low\u2212freq. chirp, subject MW"]

db_per_uv = 10.0   # 0.5 µV bar spans 5 dB on the level axis
bar_uv = 0.5

fig = plt.figure(figsize=(11.48, 9.51), dpi=100)
ax_l = fig.add_axes([0.0706, 0.0726, 0.3955, 0.8723])
ax_r = fig.add_axes([0.5706, 0.0726, 0.3955, 0.8723])

for ax, traces, title, ylab_x in [(ax_l, tone_traces, titles[0], -0.130),
                                  (ax_r, chirp_traces, titles[1], -0.126)]:
    for level, pair in zip(levels, traces):
        ax.axhline(level, color='#9a9a9a', lw=1.0, ls=(0, (1, 3.3)), zorder=1)
        for trace in pair:
            t, v = zip(*trace)
            ax.plot(t, level + db_per_uv * np.array(v), color='black', lw=1.5,
                    solid_joinstyle='round', zorder=2)

    # amplitude scale bar, right of the traces
    ax.plot([26.07, 26.07], [20, 20 + db_per_uv * bar_uv], color='black', lw=1.5,
            clip_on=False, solid_capstyle='butt')
    ax.text(27.0, 20 + db_per_uv * bar_uv / 2, f"{bar_uv} µV", rotation=90,
            ha='center', va='center', fontsize=19)

    ax.set_xlim(0, 25.6)
    ax.set_ylim(18, 44)
    ax.set_xticks([0, 5, 10, 15, 20, 25])
    ax.set_yticks(levels)
    for side in ['top', 'right', 'left']:
        ax.spines[side].set_visible(False)
    ax.spines['bottom'].set_linewidth(1.2)
    ax.tick_params(axis='x', direction='out', length=6, width=1.2, pad=7, labelsize=17)
    ax.tick_params(axis='y', direction='out', length=6, width=1.2, pad=3, labelsize=17)

    ax.set_xlabel("time in ms", fontsize=19)
    ax.xaxis.set_label_coords(0.5, -0.052)
    ax.set_ylabel("level in dB SL", fontsize=19, va='center')
    ax.yaxis.set_label_coords(ylab_x, 0.596)
    ax.text(0.5, 1.0427, title, transform=ax.transAxes, ha='center', va='center', fontsize=15.5)

plt.savefig("out.png", dpi=100)
